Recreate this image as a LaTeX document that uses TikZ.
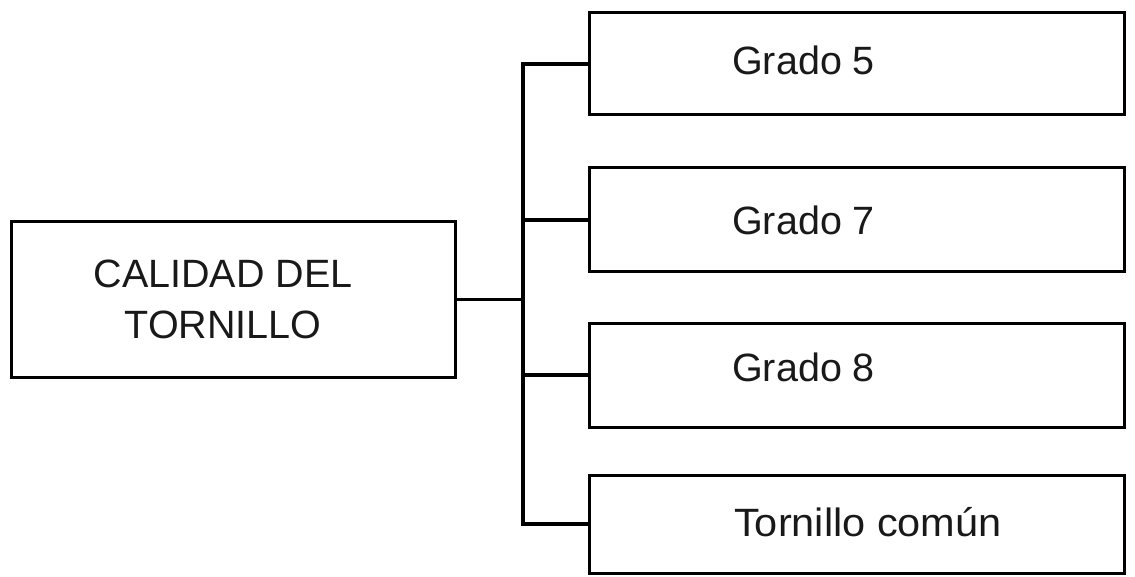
\documentclass[tikz,border=0pt]{standalone}
\usepackage{fontspec}
\setmainfont{Liberation Sans}
\begin{document}
\begin{tikzpicture}[x=1pt,y=-1pt,
  box/.style={draw=black,line width=3pt,rectangle,inner sep=0pt},
  conn/.style={draw=black,line width=3.2pt},
  lab/.style={inner sep=0pt,font=\fontsize{39.5}{50}\selectfont,text=black!90}]
\useasboundingbox (0,0) rectangle (1135,577);
% left box
\node[box,minimum width=444pt,minimum height=155pt] (L) at (233,299.5) {};
\node[lab,align=center,anchor=base] (Lt1) at (223,288) {CALIDAD DEL};
\node[lab,align=center,anchor=base] (Lt2) at (223,338) {TORNILLO};
% right boxes
\node[box,minimum width=535pt,minimum height=102pt] (B1) at (856.5,64) {};
\node[box,minimum width=535pt,minimum height=104pt] (B2) at (856.5,220) {};
\node[box,minimum width=535pt,minimum height=104pt] (B3) at (856.5,375) {};
\node[box,minimum width=535pt,minimum height=98pt] (B4) at (856.5,524) {};
\node[lab,anchor=base west] (T1) at (732,75) {Grado 5};
\node[lab,anchor=base west] (T2) at (732,235) {Grado 7};
\node[lab,anchor=base west] (T3) at (732,381) {Grado 8};
\node[lab,anchor=base west,xscale=1.05] (T4) at (734,536) {Tornillo común};
% connectors
\coordinate (t1) at (523,64);
\coordinate (t4) at (523,524);
\draw[conn,line join=miter] (B1.west) -- (t1) -- (t4) -- (B4.west);
\draw[conn] (B2.west) -- (B2.west -| t1);
\draw[conn] (B3.west) -- (B3.west -| t1);
\draw[conn] (L.east) -- (L.east -| t1);
\end{tikzpicture}
\end{document}
